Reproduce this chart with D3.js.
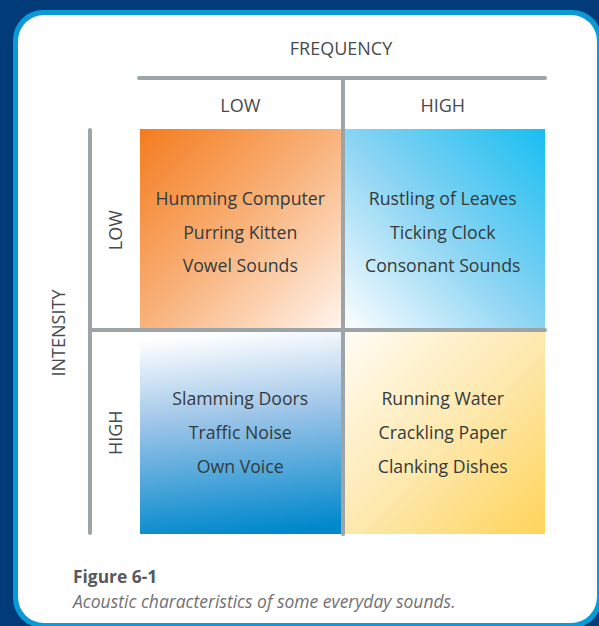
<!DOCTYPE html>
<html><head><meta charset="utf-8">
<script src="https://cdn.jsdelivr.net/npm/d3@7"></script>
<style>html,body{margin:0;padding:0;background:#003b78;}svg{display:block;}</style>
</head><body>
<script>
const frequencies = ["LOW", "HIGH"];
const intensities = ["LOW", "HIGH"];
const quadrantSounds = [
  {freq: "LOW", inten: "LOW", items: ["Humming Computer", "Purring Kitten", "Vowel Sounds"]},
  {freq: "HIGH", inten: "LOW", items: ["Rustling of Leaves", "Ticking Clock", "Consonant Sounds"]},
  {freq: "LOW", inten: "HIGH", items: ["Slamming Doors", "Traffic Noise", "Own Voice"]},
  {freq: "HIGH", inten: "HIGH", items: ["Running Water", "Crackling Paper", "Clanking Dishes"]}
];
const xTitle = "FREQUENCY";
const yTitle = "INTENSITY";
const figLabel = "Figure 6-1";
const figCaption = "Acoustic characteristics of some everyday sounds.";

const W = 599, H = 626;
const svg = d3.select("body").append("svg").attr("width", W).attr("height", H);
const defs = svg.append("defs");

svg.append("rect").attr("width", W).attr("height", H).attr("fill", "#013c79");
svg.append("rect").attr("x", 13).attr("y", 10).attr("width", 589).attr("height", 618).attr("rx", 30).attr("fill", "#0b9ad8");
svg.append("rect").attr("x", 18).attr("y", 15).attr("width", 579).attr("height", 608).attr("rx", 26).attr("fill", "#ffffff");

const x = d3.scaleBand().domain(frequencies).range([140, 545]);
const y = d3.scaleBand().domain(intensities).range([129, 534]);

const grads = {
  "LOW-LOW": {x1: 0, y1: 0, x2: 1, y2: 1, stops: [["#f37c1e", 0], ["#f9b37c", 0.5], ["#fff6ef", 1]]},
  "HIGH-LOW": {x1: 1, y1: 0, x2: 0, y2: 1, stops: [["#18bff1", 0], ["#8ad4f3", 0.5], ["#ffffff", 1]]},
  "LOW-HIGH": {x1: 0.45, y1: 0, x2: 0.55, y2: 1, stops: [["#ffffff", 0], ["#9cc4e8", 0.42], ["#0088cc", 1]]},
  "HIGH-HIGH": {x1: 0, y1: 0, x2: 1, y2: 1, stops: [["#fffcf4", 0], ["#fde9b0", 0.5], ["#ffd45a", 1]]}
};
Object.entries(grads).forEach(([k, g]) => {
  const lg = defs.append("linearGradient").attr("id", "g-" + k)
    .attr("x1", g.x1).attr("y1", g.y1).attr("x2", g.x2).attr("y2", g.y2);
  g.stops.forEach(([c, o]) => lg.append("stop").attr("offset", o).attr("stop-color", c));
});

const font = "'Open Sans', sans-serif";
const q = svg.selectAll("g.q").data(quadrantSounds).enter().append("g").attr("class", "q");
q.append("rect")
  .attr("x", d => x(d.freq)).attr("y", d => y(d.inten))
  .attr("width", x.bandwidth()).attr("height", y.bandwidth())
  .attr("fill", d => `url(#g-${d.freq}-${d.inten})`);
q.each(function(d) {
  const cx = x(d.freq) + x.bandwidth() / 2 - 1;
  const cy = y(d.inten) + y.bandwidth() / 2 - (d.inten === "LOW" ? 32.5 : 34.5);
  d3.select(this).selectAll("text").data(d.items).enter().append("text")
    .attr("x", cx).attr("y", (t, i) => cy + i * 33.8)
    .attr("text-anchor", "middle").attr("dominant-baseline", "central")
    .attr("font-family", font).attr("font-size", 17.7).attr("fill", "#333a3c")
    .text(t => t);
});

const lineColor = "#9ca4a8";
const lines = [
  [139, 78, 545, 78],
  [343, 78, 343, 534],
  [90, 130, 90, 533],
  [90, 330, 545, 330]
];
svg.selectAll("line.grid").data(lines).enter().append("line")
  .attr("x1", d => d[0]).attr("y1", d => d[1]).attr("x2", d => d[2]).attr("y2", d => d[3])
  .attr("stroke", lineColor).attr("stroke-width", 4).attr("stroke-linecap", "round");

const hdr = 18;
svg.append("text").attr("x", 341).attr("y", 48).attr("text-anchor", "middle").attr("dominant-baseline", "central")
  .attr("font-family", font).attr("font-size", hdr).attr("fill", "#454a4d").text(xTitle);
svg.selectAll("text.fx").data(frequencies).enter().append("text").attr("class", "fx")
  .attr("x", d => x(d) + x.bandwidth() / 2 - 1).attr("y", 105)
  .attr("text-anchor", "middle").attr("dominant-baseline", "central")
  .attr("font-family", font).attr("font-size", hdr).attr("fill", "#454a4d").text(d => d);

svg.append("text").attr("transform", "translate(58,333) rotate(-90)").attr("text-anchor", "middle").attr("dominant-baseline", "central")
  .attr("font-family", font).attr("font-size", hdr).attr("fill", "#454a4d").text(yTitle);
svg.selectAll("text.iy").data(intensities).enter().append("text").attr("class", "iy")
  .attr("transform", d => `translate(115,${y(d) + y.bandwidth() / 2}) rotate(-90)`)
  .attr("text-anchor", "middle").attr("dominant-baseline", "central")
  .attr("font-family", font).attr("font-size", hdr).attr("fill", "#454a4d").text(d => d);

svg.append("text").attr("x", 73).attr("y", 583).attr("font-family", font).attr("font-weight", "bold")
  .attr("font-size", 17.4).attr("fill", "#58595b").text(figLabel);
svg.append("text").attr("x", 73).attr("y", 607.5).attr("font-family", font).attr("font-style", "italic")
  .attr("font-size", 17.5).attr("fill", "#707173").text(figCaption);
</script>
</body></html>
